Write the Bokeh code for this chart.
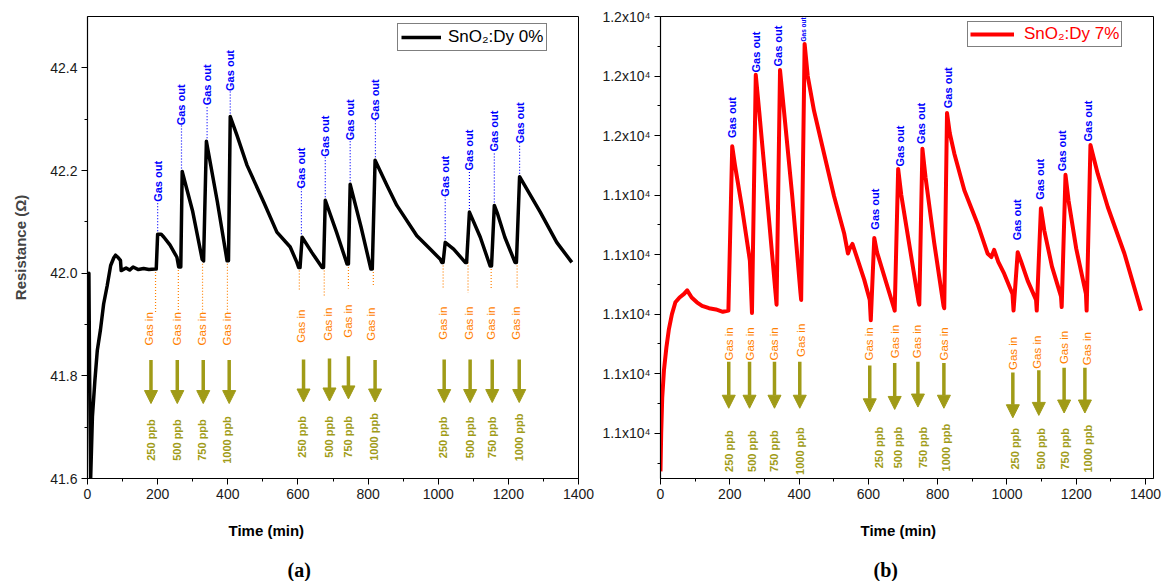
import numpy as np
from bokeh.plotting import figure
from bokeh.models import (ColumnDataSource, Legend, LegendItem, Title, Arrow, NormalHead,
                          SingleIntervalTicker, FixedTicker, Range1d, PrintfTickFormatter)
from bokeh.layouts import row
from bokeh.core.properties import value
from bokeh.embed import file_html
from bokeh.resources import INLINE

# ---------------- panel (a): SnO2:Dy 0% ----------------
time_a = [0, 2, 4, 6, 9, 14, 21, 28, 37, 46, 56, 66, 75, 80, 88, 94, 96, 110, 120, 130, 145,
          160, 175, 192, 196, 200, 210, 218, 235, 255, 260, 266, 270, 300, 327, 331, 339,
          370, 398, 402, 407, 426, 455, 502, 540, 578, 597, 602, 606, 612, 640, 669, 673,
          678, 710, 740, 744, 749, 780, 808, 812, 820, 854, 882, 939, 977, 1006, 1010, 1014,
          1020, 1044, 1077, 1081, 1089, 1120, 1148, 1152, 1160, 1168, 1190, 1219, 1223,
          1232, 1291, 1338, 1381]
res_a = [41.87, 41.92, 42.0, 41.8, 41.6, 41.72, 41.79, 41.85, 41.89, 41.94, 41.975, 42.015,
         42.03, 42.035, 42.03, 42.025, 42.005, 42.01, 42.006, 42.012, 42.007, 42.009, 42.007,
         42.008, 42.008, 42.076, 42.076, 42.07, 42.055, 42.031, 42.012, 42.012, 42.198,
         42.12, 42.027, 42.024, 42.257, 42.14, 42.024, 42.024, 42.305, 42.269, 42.21,
         42.139, 42.08, 42.051, 42.021, 42.011, 42.011, 42.07, 42.04, 42.011, 42.011,
         42.142, 42.08, 42.018, 42.018, 42.173, 42.09, 42.008, 42.008, 42.22, 42.171,
         42.132, 42.073, 42.047, 42.027, 42.021, 42.021, 42.06, 42.047, 42.021, 42.021,
         42.119, 42.07, 42.014, 42.014, 42.132, 42.118, 42.07, 42.021, 42.021, 42.188,
         42.119, 42.06, 42.021]

gas_out_x_a = [200, 268, 341, 407, 610, 678, 749, 821, 1020, 1089, 1160, 1232]
gas_out_peak_a = [42.076, 42.198, 42.257, 42.305, 42.07, 42.142, 42.173, 42.22,
                  42.06, 42.119, 42.132, 42.188]
gas_out_label_y_a = [42.139, 42.288, 42.327, 42.355, 42.165, 42.227, 42.259, 42.298,
                     42.149, 42.2, 42.237, 42.253]

gas_in_x_a = [194, 259, 328, 399, 604, 675, 744, 815, 1014, 1085, 1151, 1225]
gas_in_base_a = [42.008, 42.012, 42.024, 42.024, 42.011, 42.011, 42.018, 42.008,
                 42.021, 42.021, 42.014, 42.021]
gas_in_end_a = [41.924, 41.924, 41.924, 41.924, 41.965, 41.955, 41.97, 41.974,
                41.968, 41.962, 41.97, 41.972]
gas_in_label_x_a = [174, 256, 327, 398, 609, 687, 742, 808, 1014, 1088, 1151, 1222]
gas_in_label_y_a = [41.924, 41.924, 41.924, 41.924, 41.929, 41.933, 41.939, 41.933,
                    41.935, 41.935, 41.935, 41.935]

arrow_x_a = [181, 256, 330, 404, 616, 690, 744, 820, 1017, 1091, 1154, 1231]
arrow_top_a = [41.831, 41.831, 41.831, 41.831, 41.832, 41.834, 41.838, 41.831,
               41.832, 41.832, 41.832, 41.832]
arrow_tip_a = [41.746, 41.746, 41.746, 41.746, 41.749, 41.751, 41.755, 41.749,
               41.748, 41.748, 41.748, 41.748]

ppb_labels = ["250 ppb", "500 ppb", "750 ppb", "1000 ppb"] * 3
ppb_x_a = [180, 256, 327, 398, 613, 689, 742, 816, 1014, 1091, 1154, 1231]
ppb_y_a = [41.675] * 4 + [41.681] * 4 + [41.68] * 4

# ---------------- panel (b): SnO2:Dy 7% ----------------
time_b = [0, 2, 5, 10, 17, 24, 33, 43, 55, 68, 77, 90, 105, 120, 140, 160, 180, 196,
          207, 215, 235, 258, 264, 275, 285, 310, 332, 335, 345, 355, 380, 404, 406,
          416, 425, 443, 472, 501, 530, 541, 546, 554, 570, 588, 604, 607, 617, 625,
          650, 674, 676, 686, 695, 720, 745, 747, 756, 765, 790, 817, 819, 827, 835,
          848, 877, 915, 944, 955, 963, 975, 992, 1016, 1019, 1031, 1040, 1060, 1084,
          1086, 1098, 1108, 1130, 1156, 1158, 1169, 1178, 1200, 1228, 1230, 1241, 1262,
          1291, 1339, 1387]
res_b = [11268, 11300, 11330, 11353, 11372, 11387, 11400, 11410, 11414, 11417, 11420,
         11414, 11410, 11407, 11405, 11404, 11402, 11403, 11541, 11525, 11490, 11445,
         11401, 11601, 11570, 11490, 11418, 11408, 11605, 11575, 11500, 11418, 11412,
         11627, 11600, 11571, 11535, 11499, 11468, 11451, 11455, 11459, 11445, 11429,
         11412, 11395, 11464, 11452, 11428, 11405, 11403, 11522, 11500, 11455, 11410,
         11408, 11539, 11515, 11460, 11407, 11405, 11569, 11552, 11535, 11504, 11476,
         11451, 11448, 11454, 11444, 11434, 11417, 11403, 11452, 11445, 11428, 11412,
         11403, 11489, 11470, 11440, 11415, 11406, 11517, 11495, 11455, 11417, 11403,
         11542, 11518, 11490, 11451, 11403]

gas_out_x_b = [205, 277, 340, 412, 618, 691, 751, 831, 1028, 1094, 1159, 1234]
gas_out_label_y_b = [11548, 11603, 11608, 11629, 11471, 11524, 11543, 11573,
                     11462, 11496, 11520, 11545]

gas_in_label_x_b = [197, 257, 329, 405, 601, 676, 740, 818, 1017, 1087, 1165, 1231]
gas_in_label_y_b = [11389, 11389, 11389, 11392, 11389, 11391, 11391, 11389,
                    11381, 11382, 11386, 11385]

arrow_x_b = [197, 257, 329, 402, 604, 676, 743, 818, 1017, 1092, 1165, 1225]
arrow_top_b = [11360, 11360, 11360, 11360, 11357, 11359, 11360, 11359,
               11351, 11353, 11355, 11355]
arrow_tip_b = [11321, 11321, 11321, 11321, 11318, 11320, 11322, 11321,
               11313, 11315, 11317, 11317]

ppb_x_b = [199, 263, 329, 402, 630, 685, 757, 824, 1023, 1098, 1168, 1234]
ppb_y_b = [11285] * 4 + [11288] * 4 + [11287] * 4

y_ticks_b = [11300, 11350, 11400, 11450, 11500, 11550, 11600, 11650]
y_tick_labels_b = ["1.1x10⁴"] * 5 + ["1.2x10⁴"] * 3

# ---------------- styling helpers ----------------
FONT = "Liberation Sans"
BLUE = "#0000FF"
ORANGE = "#FF8000"
OLIVE = "#A09B17"


def style_axes(p):
    for ax in (p.xaxis[0], p.yaxis[0]):
        ax.axis_line_color = "black"
        ax.axis_line_width = 1.2
        ax.major_tick_line_color = "black"
        ax.minor_tick_line_color = "black"
        ax.major_tick_out = 6
        ax.major_tick_in = 0
        ax.minor_tick_out = 3
        ax.minor_tick_in = 0
        ax.major_label_text_font = FONT
        ax.major_label_text_font_size = "14px"
        ax.major_label_text_color = "#1a1a1a"
        ax.major_label_standoff = 4
    p.outline_line_color = "black"
    p.outline_line_width = 1
    p.xgrid.visible = False
    p.ygrid.visible = False
    p.background_fill_color = "white"
    p.border_fill_color = "white"


def add_bottom_titles(p, offset_label, offset_letter, letter):
    p.add_layout(Title(text="Time (min)", align="left", offset=offset_label, standoff=36,
                       text_font=FONT, text_font_size="15px", text_font_style="bold",
                       text_color="black"), "below")
    p.add_layout(Title(text=letter, align="left", offset=offset_letter, standoff=0,
                       text_font="Liberation Serif", text_font_size="20px",
                       text_font_style="bold", text_color="black"), "below")


def add_annotations(p, out_x, out_y, in_x, in_y, ar_x, ar_top, ar_tip, pb_x, pb_y,
                    out_sizes):
    p.text(x=out_x, y=out_y, text=["Gas out"] * len(out_x), angle=np.pi / 2,
           text_align="left", text_baseline="middle", text_font=value(FONT),
           text_font_size=out_sizes, text_font_style="bold", text_color=BLUE)
    p.text(x=in_x, y=in_y, text=["Gas in"] * len(in_x), angle=np.pi / 2,
           text_align="right", text_baseline="middle", text_font=value(FONT),
           text_font_size="11.5px", text_color=ORANGE)
    src = ColumnDataSource(dict(x0=ar_x, y0=ar_top, x1=ar_x, y1=ar_tip))
    p.add_layout(Arrow(end=NormalHead(size=13, fill_color=OLIVE, line_color=OLIVE,
                                      line_width=1),
                       x_start="x0", y_start="y0", x_end="x1", y_end="y1", source=src,
                       line_color=OLIVE, line_width=3.5))
    p.text(x=pb_x, y=pb_y, text=ppb_labels, angle=np.pi / 2,
           text_align="center", text_baseline="middle", text_font=value(FONT),
           text_font_size="11px", text_font_style="bold", text_color=OLIVE)


# ---------------- panel (a) ----------------
p1 = figure(frame_width=491, frame_height=462, min_border_left=87, min_border_right=17,
            min_border_top=16, min_border_bottom=103,
            x_range=Range1d(0, 1400), y_range=Range1d(41.6, 42.5),
            output_backend="svg", toolbar_location=None)
style_axes(p1)
p1.xaxis.ticker = SingleIntervalTicker(interval=200, num_minor_ticks=2)
p1.yaxis.ticker = SingleIntervalTicker(interval=0.2, num_minor_ticks=2)
p1.yaxis.formatter = PrintfTickFormatter(format="%.1f")
p1.yaxis.axis_label = "Resistance (Ω)"
p1.yaxis.axis_label_text_font = FONT
p1.yaxis.axis_label_text_font_size = "15px"
p1.yaxis.axis_label_text_font_style = "bold"
p1.yaxis.axis_label_standoff = 18

p1.segment(x0=gas_out_x_a, y0=gas_out_peak_a, x1=gas_out_x_a, y1=gas_out_label_y_a,
           line_color=BLUE, line_width=1.2, line_dash="1 2")
p1.segment(x0=gas_in_x_a, y0=gas_in_base_a, x1=gas_in_x_a, y1=gas_in_end_a,
           line_color=ORANGE, line_width=1.2, line_dash="1 2")
r1 = p1.line(time_a, res_a, line_color="black", line_width=3.5, line_join="round")
add_annotations(p1, gas_out_x_a, gas_out_label_y_a, gas_in_label_x_a, gas_in_label_y_a,
                arrow_x_a, arrow_top_a, arrow_tip_a, ppb_x_a, ppb_y_a, "11px")

leg1 = Legend(items=[LegendItem(label="SnO₂:Dy 0%", renderers=[r1])], location=(310, 427),
              label_text_font=FONT, label_text_font_size="17px", label_text_color="black",
              border_line_color="black", border_line_width=1, padding=3, margin=0,
              glyph_width=40, glyph_height=20, label_height=20, label_standoff=7,
              background_fill_alpha=1)
p1.add_layout(leg1)
add_bottom_titles(p1, 141, 200, "(a)")

# ---------------- panel (b) ----------------
p2 = figure(frame_width=493, frame_height=462, min_border_left=65, min_border_right=10,
            min_border_top=16, min_border_bottom=103,
            x_range=Range1d(0, 1423), y_range=Range1d(11262, 11650),
            output_backend="svg", toolbar_location=None)
style_axes(p2)
p2.xaxis.ticker = SingleIntervalTicker(interval=200, num_minor_ticks=2)
minor_b = [t - 25 for t in y_ticks_b]
p2.yaxis.ticker = FixedTicker(ticks=y_ticks_b, minor_ticks=minor_b)
p2.yaxis.major_label_overrides = {t: lab for t, lab in zip(y_ticks_b, y_tick_labels_b)}

r2 = p2.line(time_b, res_b, line_color="#FF0000", line_width=4, line_join="round")
sizes_b = ["11px"] * 12
sizes_b[3] = "6.5px"
add_annotations(p2, gas_out_x_b, gas_out_label_y_b, gas_in_label_x_b, gas_in_label_y_b,
                arrow_x_b, arrow_top_b, arrow_tip_b, ppb_x_b, ppb_y_b, sizes_b)

leg2 = Legend(items=[LegendItem(label="SnO₂:Dy 7%", renderers=[r2])], location=(307, 431),
              label_text_font=FONT, label_text_font_size="17px", label_text_color="#FF0000",
              border_line_color="black", border_line_width=1, padding=2, margin=0,
              glyph_width=44, glyph_height=20, label_height=20, label_standoff=10,
              background_fill_alpha=1)
p2.add_layout(leg2)
add_bottom_titles(p2, 200, 213, "(b)")

layout = row(p1, p2)
open("out.html", "w").write(file_html(layout, INLINE))
